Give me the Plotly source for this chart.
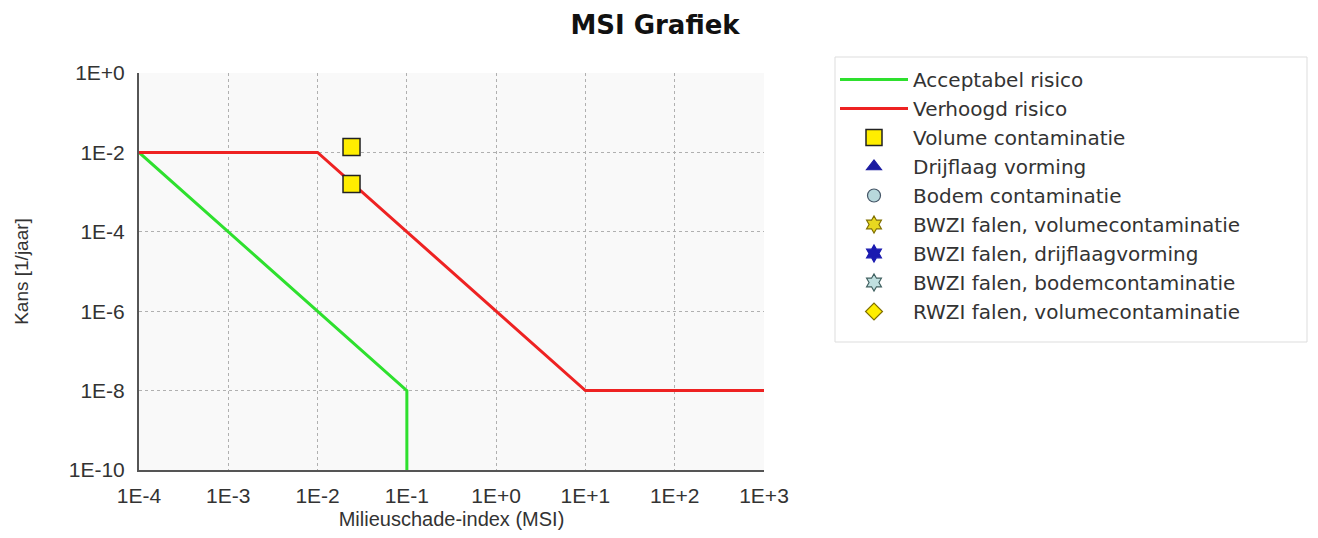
import plotly.graph_objects as go

# Data
accept_x = [1e-4, 1e-1, 1e-1]
accept_y = [1e-2, 1e-8, 1e-10]
verhoogd_x = [1e-4, 1e-2, 1e1, 1e3]
verhoogd_y = [1e-2, 1e-2, 1e-8, 1e-8]
volume_x = [0.024, 0.024]
volume_y = [0.0137, 0.0016]

x_tickvals = [1e-4, 1e-3, 1e-2, 1e-1, 1e0, 1e1, 1e2, 1e3]
x_ticktext = ["1E-4", "1E-3", "1E-2", "1E-1", "1E+0", "1E+1", "1E+2", "1E+3"]
y_tickvals = [1e-10, 1e-8, 1e-6, 1e-4, 1e-2, 1e0]
y_ticktext = ["1E-10", "1E-8", "1E-6", "1E-4", "1E-2", "1E+0"]

FONT = "Liberation Sans, Arial, sans-serif"
LFONT = "DejaVu Sans, sans-serif"
W, H = 1302, 522
PL, PR, PT, PB = 131, 756, 65, 462  # plot area in figure pixels


def px_x(x):
    return (x - PL) / (PR - PL)


def px_y(y):
    return (PB - y) / (PB - PT)


fig = go.Figure()
fig.add_trace(go.Scatter(x=accept_x, y=accept_y, mode="lines", name="Acceptabel risico",
                         line=dict(color="#2ee02e", width=3)))
fig.add_trace(go.Scatter(x=verhoogd_x, y=verhoogd_y, mode="lines", name="Verhoogd risico",
                         line=dict(color="#ee2222", width=3)))
fig.add_trace(go.Scatter(x=volume_x, y=volume_y, mode="markers", name="Volume contaminatie",
                         marker=dict(symbol="square", size=17, color="#ffee00",
                                     line=dict(color="#222222", width=1.5))))
empty = [
    ("Drijflaag vorming", "triangle-up", "#1a1aa0", "#1a1aa0"),
    ("Bodem contaminatie", "circle", "#b8d8dc", "#445566"),
    ("BWZI falen, volumecontaminatie", "hexagram", "#e8d820", "#807000"),
    ("BWZI falen, drijflaagvorming", "hexagram", "#1a1ab0", "#1a1ab0"),
    ("BWZI falen, bodemcontaminatie", "hexagram", "#c0e0e0", "#406060"),
    ("RWZI falen, volumecontaminatie", "diamond", "#ffee00", "#807000"),
]
for name, sym, col, lc in empty:
    fig.add_trace(go.Scatter(x=[None], y=[None], mode="markers", name=name,
                             marker=dict(symbol=sym, size=13, color=col,
                                         line=dict(color=lc, width=1.2))))

fig.update_layout(
    width=W, height=H,
    margin=dict(l=PL, r=W - PR, t=PT, b=H - PB, autoexpand=False),
    paper_bgcolor="white",
    plot_bgcolor="#f9f9f9",
    font=dict(family=FONT, color="#333333"),
    title=dict(text="<b>MSI Grafiek</b>", x=647 / W, xanchor="center", y=1 - 17 / H,
               yanchor="middle", font=dict(size=26, color="#111111",
                                           family="DejaVu Sans, sans-serif")),
    legend=dict(x=px_x(827), y=px_y(52), xanchor="left", yanchor="top",
                bgcolor="rgba(0,0,0,0)", borderwidth=0,
                font=dict(size=20, color="#333333", family=LFONT),
                itemwidth=68, maxheight=600),
    showlegend=True,
    shapes=[dict(type="rect", xref="paper", yref="paper",
                 x0=px_x(827), x1=px_x(1299), y0=px_y(334), y1=px_y(49),
                 line=dict(color="#dddddd", width=1), fillcolor="white", layer="below")],
)
fig.update_xaxes(type="log", range=[-4, 3], tickvals=x_tickvals, ticktext=x_ticktext,
                 showgrid=True, gridcolor="#b0b0b0", griddash="dot", gridwidth=1,
                 showline=True, linecolor="#555555", linewidth=2, ticks="",
                 ticklabelstandoff=6, automargin=False,
                 tickfont=dict(size=21, color="#333333"), zeroline=False,
                 title=dict(text="Milieuschade-index (MSI)", font=dict(size=20, color="#333333"),
                            standoff=10))
fig.update_yaxes(type="log", range=[-10, 0], tickvals=y_tickvals, ticktext=y_ticktext,
                 showgrid=True, gridcolor="#b0b0b0", griddash="dot", gridwidth=1,
                 showline=True, linecolor="#555555", linewidth=2, ticks="",
                 ticklabelstandoff=8, automargin=False,
                 tickfont=dict(size=21, color="#333333"), zeroline=False,
                 title=dict(text="Kans [1/jaar]", font=dict(size=19, color="#333333"),
                            standoff=35))

fig.write_html("out.html")
